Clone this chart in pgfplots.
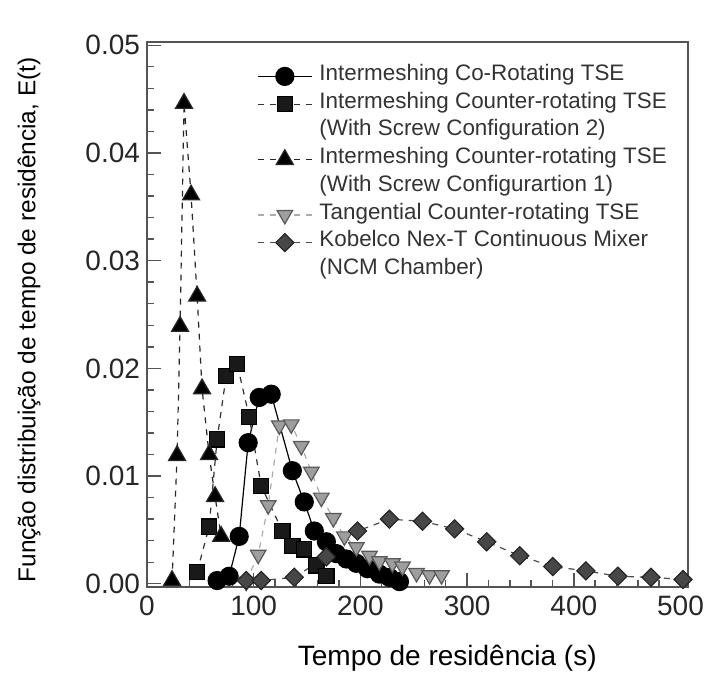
\documentclass[border=0pt]{standalone}
\usepackage{fontspec}
\setmainfont{Liberation Sans}
\usepackage{pgfplots}
\pgfplotsset{compat=1.18}

\definecolor{axisgray}{gray}{0.33}
\definecolor{txtgray}{gray}{0.2}
\definecolor{tangfill}{gray}{0.62}
\definecolor{tangdraw}{gray}{0.35}
\definecolor{kobfill}{gray}{0.28}

\begin{document}
\begin{tikzpicture}
\begin{axis}[
  name=ax,
  scale only axis,
  width=270.5pt, height=272.5pt,
  xmin=0, xmax=507, ymin=-0.0003, ymax=0.0503,
  xtick={0,100,200,300,400,500},
  ytick={0,0.01,0.02,0.03,0.04,0.05},
  scaled y ticks=false,
  minor x tick num=4, minor y tick num=4,
  tick pos=left, tick align=inside,
  major tick length=7pt, minor tick length=3.5pt,
  axis line style={axisgray, line width=1pt},
  every tick/.style={axisgray, line width=0.7pt},
  /pgf/number format/assume math mode=true,
  tick label style={font=\fontsize{14}{16}\selectfont, text=black!85},
  x tick label style={yshift=-1pt},
  y tick label style={/pgf/number format/.cd, fixed, fixed zerofill, precision=2},
  xlabel={Tempo de residência (s)},
  ylabel={Função distribuição de tempo de residência, E(t)},
  x label style={font=\fontsize{14}{16}\selectfont, at={(axis description cs:0.555,-0.105)}, anchor=north, inner sep=0pt},
  y label style={font=\fontsize{12.2}{14}\selectfont, at={(axis description cs:-0.218,0.49)}, anchor=center, inner sep=0pt},
  legend image code/.code={\draw[mark repeat=2,mark phase=2] plot coordinates {(0pt,0pt) (13.5pt,0pt) (27pt,0pt)};},
  legend cell align=left,
  legend style={draw=none, fill=none, at={(axis description cs:0.203,0.963)}, anchor=north west,
    inner sep=0pt, row sep=0pt, column sep=0pt,
    nodes={inner sep=0pt, text=txtgray, font=\fontsize{11.2}{13}\selectfont, text height=9pt, text depth=4.85pt},
    /tikz/every odd column/.style={column sep=3.5pt}},
]

% Intermeshing co-rotating TSE
\addplot[black, solid, line width=0.6pt, mark=*, mark size=4.5pt, mark options={solid, fill=black}]
coordinates {(65.7,0.0003) (77,0.0007) (86.4,0.0044) (94.8,0.0131) (105.2,0.0173) (116.4,0.0176)
 (136.2,0.0105) (147.4,0.0076) (156.8,0.0049) (168.1,0.0039) (177.5,0.0028) (186.9,0.0023)
 (196.2,0.0019) (206.6,0.0014) (217.8,0.0009) (227.2,0.0006) (236.6,0.0002)};
\addlegendentry{Intermeshing Co-Rotating TSE}

% Intermeshing counter-rotating TSE, screw configuration 2
\addplot[black!80, dashed, line width=0.6pt, mark=square*, mark size=3.8pt, mark options={solid, fill=black!90, draw=black}]
coordinates {(47,0.0011) (58.2,0.0053) (65.7,0.0134) (74.2,0.0193) (84.5,0.0204) (95.8,0.0155)
 (107,0.0091) (126.8,0.0049) (136.2,0.0035) (147.4,0.0032) (158.7,0.0017) (168.1,0.0007)};
\addlegendentry{Intermeshing Counter-rotating TSE}
\addlegendimage{empty legend}
\addlegendentry{(With Screw Configuration 2)}

% Intermeshing counter-rotating TSE, screw configuration 1
\addplot[black!85, dashed, line width=0.6pt, mark=triangle*, mark size=4.9pt, mark options={solid, fill=black}]
coordinates {(23.5,0.0003) (28.2,0.0119) (31,0.0239) (34.7,0.0446) (41.3,0.0361) (47,0.0267)
 (51.6,0.0181) (58.2,0.012) (63.8,0.0081) (69.5,0.0044)};
\addlegendentry{Intermeshing Counter-rotating TSE}
\addlegendimage{empty legend}
\addlegendentry{(With Screw Configurartion 1)}

% Tangential counter-rotating TSE
\addplot[gray!65, dashed, line width=0.6pt, mark=triangle*, mark size=4.5pt, mark options={solid, rotate=180, fill=tangfill, draw=tangdraw}]
coordinates {(93,0.0002) (104.2,0.0027) (113.6,0.0073) (124,0.0147) (135.2,0.0148) (144.6,0.0128)
 (154,0.0104) (163.4,0.008) (174.6,0.0061) (185,0.0044) (196.2,0.0034) (208.5,0.0026)
 (217.8,0.0021) (230,0.0019) (239.4,0.0016) (252.6,0.001) (264.8,0.0008) (276,0.0008)};
\addlegendentry{Tangential Counter-rotating TSE}

% Kobelco Nex-T continuous mixer
\addplot[black!70, dashed, line width=0.6pt, mark=square*, mark size=3.2pt, mark options={solid, rotate=45, fill=kobfill, draw=black!85}]
coordinates {(93,0.0003) (107,0.0003) (138,0.0006) (168,0.0025) (197.2,0.0049) (227.2,0.006)
 (258.2,0.0058) (288.3,0.0051) (318.3,0.0039) (349.3,0.0026) (380.3,0.0016) (411.3,0.0012)
 (441.3,0.0007) (472.3,0.0006) (502.3,0.0004)};
\addlegendentry{Kobelco Nex-T Continuous Mixer}
\addlegendimage{empty legend}
\addlegendentry{(NCM Chamber)}

\end{axis}
\pgfresetboundingbox
\path ([shift={(-73.5pt,-45pt)}]ax.south west) rectangle ([shift={(11.5pt,21pt)}]ax.north east);
\end{tikzpicture}
\end{document}
